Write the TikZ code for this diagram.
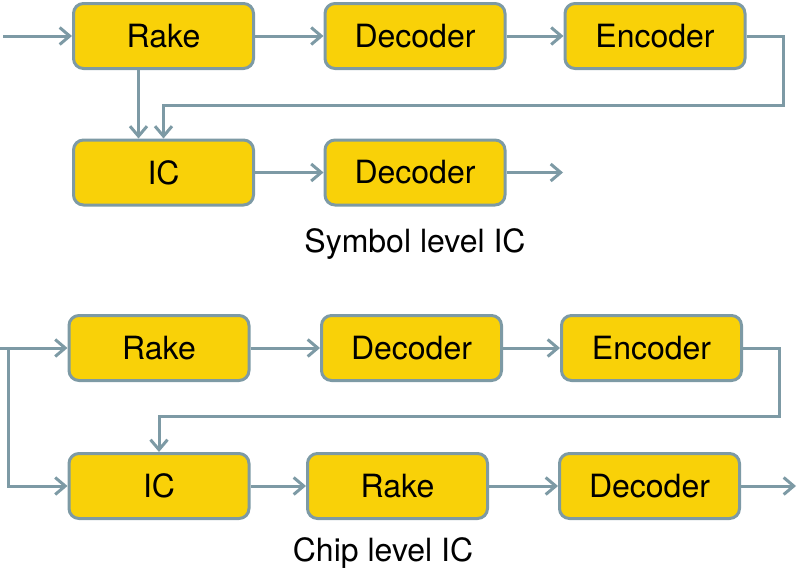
\documentclass[tikz,border=0pt]{standalone}
\usepackage{fontspec}
\setmainfont{TeX Gyre Heros}
\usetikzlibrary{arrows.meta}
\definecolor{boxfill}{HTML}{F9D108}
\definecolor{edge}{HTML}{7D9AA5}
\tikzset{
  blk/.style={rectangle, rounded corners=10pt, draw=edge, line width=3pt, fill=boxfill,
    minimum width=180pt, minimum height=65pt, inner sep=0pt,
    font=\fontsize{32}{34}\selectfont},
  arr/.style={draw=edge, line width=3pt, -{Straight Barb[length=10pt,width=17pt,line width=3pt]}},
  lbl/.style={font=\fontsize{32}{34}\selectfont, inner sep=0pt}
}
\begin{document}
\begin{tikzpicture}[x=1pt,y=-1pt]
\useasboundingbox (0,0) rectangle (800,573);
% Symbol level IC
\node[blk] (rake1) at (163.5,36) {Rake};
\node[blk] (dec1) at (415,36) {Decoder};
\node[blk] (enc1) at (655,36) {Encoder};
\node[blk] (ic1) at (163.5,172.5) {IC};
\node[blk] (dec1b) at (415,172.5) {Decoder};
\coordinate (in1) at (3,36);
\coordinate (out1) at (563,172.5);
\coordinate (fb1) at (783,105);
\draw[arr] (in1) -- (rake1.west);
\draw[arr] (rake1) -- (dec1);
\draw[arr] (dec1) -- (enc1);
\draw[arr] ([xshift=-25pt]rake1.south) -- ([xshift=-25pt]ic1.north);
\draw[arr] (enc1.east) -| (fb1) -| (ic1.north);
\draw[arr] (ic1) -- (dec1b);
\draw[arr] (dec1b.east) -- (out1);
\node[lbl] (t1) at (415,244) {Symbol level IC};
% Chip level IC
\node[blk] (rake2) at (159,348) {Rake};
\node[blk] (dec2) at (411.5,348) {Decoder};
\node[blk] (enc2) at (651.5,348) {Encoder};
\node[blk] (ic2) at (159,486) {IC};
\node[blk] (rake3) at (397.5,486) {Rake};
\node[blk] (dec3) at (649.5,486) {Decoder};
\coordinate (in2) at (0,348);
\coordinate (br2) at (8,348);
\coordinate (fb2) at (779,416);
\coordinate (out2) at (796,486);
\draw[arr] (in2) -- (rake2.west);
\draw[arr] (br2) |- (ic2.west);
\draw[arr] (rake2) -- (dec2);
\draw[arr] (dec2) -- (enc2);
\draw[arr] (enc2.east) -| (fb2) -| (ic2.north);
\draw[arr] (ic2) -- (rake3);
\draw[arr] (rake3) -- (dec3);
\draw[arr] (dec3.east) -- (out2);
\node[lbl] (t2) at (383,553) {Chip level IC};
\end{tikzpicture}
\end{document}
